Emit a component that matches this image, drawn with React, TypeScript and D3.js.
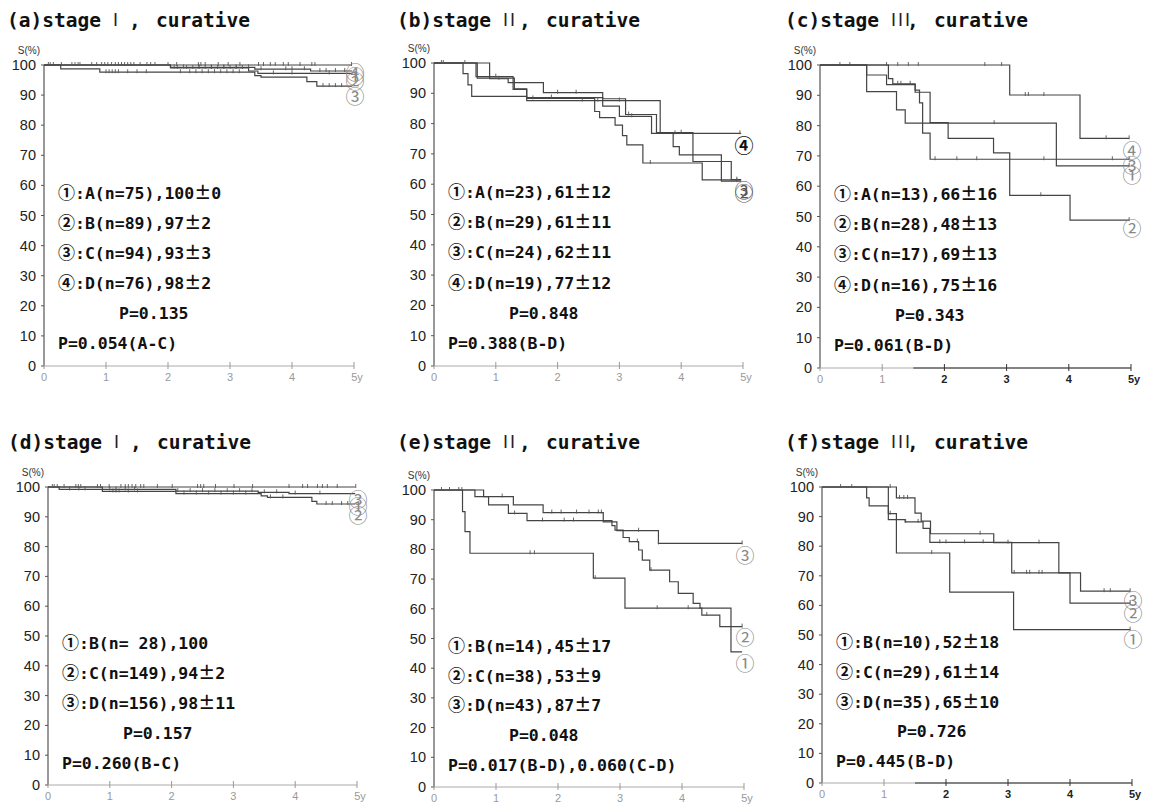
import React from 'react';
import * as d3 from 'd3';

type Pt = [number, number];

// ---- (a) stage I, curative : A, B, C, D
const aCurve1: Pt[] = [[0, 100]];
const aCurve2: Pt[] = [[0, 100], [2.04, 99], [3.3, 98], [3.45, 97.2]];
const aCurve3: Pt[] = [[0, 100], [0.27, 98.7], [0.9, 97.6], [3.4, 96.5], [3.5, 96], [4.24, 94.5], [4.4, 93]];
const aCurve4: Pt[] = [[0, 100], [2.04, 99.2], [3.4, 98.6], [4.3, 98]];
const aCens1 = [0.07, 0.1, 0.15, 0.28, 0.45, 0.5, 0.55, 0.58, 0.77, 0.85, 0.93, 0.98, 1.03, 1.09, 1.15, 1.2, 1.25, 1.3, 1.35, 1.4, 1.45, 1.55, 1.66, 1.72, 1.79, 2.0, 2.14, 2.49, 2.53, 2.6, 2.81, 2.97, 3.16, 3.46, 3.54, 3.65, 3.73, 3.86, 3.94, 4.13, 4.32, 4.37, 4.96];
const aCens2 = [2.15, 2.3, 2.4, 2.5, 2.6, 2.7, 2.8, 2.9, 3.0, 3.1, 3.2, 3.7, 4.0, 4.6];
const aCens3 = [1.0, 1.05, 1.1, 1.15, 1.2, 1.35, 1.5, 1.65, 2.2, 2.35, 2.45, 2.55, 2.65, 2.75, 2.85, 2.95, 3.05, 3.15, 4.5, 4.6, 4.7, 4.8];
const aCens4 = [2.1, 2.25, 2.5, 2.7, 2.9, 3.1, 3.3, 3.5, 3.9, 4.0, 4.2, 4.45, 4.55, 4.7, 4.85];
const aLegend = ['①:A(n=75),100±0', '②:B(n=89),97±2', '③:C(n=94),93±3', '④:D(n=76),98±2'];
const aP = ['P=0.135', 'P=0.054(A-C)'];
const aEndLabels: [string, number][] = [['④', 97.3], ['①', 95.8], ['②', 94.2], ['③', 89.2]];

// ---- (b) stage II, curative
const bCurve1: Pt[] = [[0, 100], [0.47, 96.5], [0.55, 92.8], [0.61, 89], [1.5, 87.6], [2.6, 84], [2.68, 82], [2.93, 79.5], [3.05, 76], [3.12, 73], [3.38, 67], [4.34, 61.4]];
const bCurve2: Pt[] = [[0, 100], [0.68, 95.5], [1.28, 91.3], [1.5, 88.6], [2.73, 85.8], [3.0, 82.4], [3.52, 76.8], [3.87, 72.4], [3.97, 69.7], [4.65, 61]];
const bCurve3: Pt[] = [[0, 100], [0.9, 94.8], [1.2, 93.5], [1.77, 90.2], [2.73, 88.2], [3.1, 83], [3.6, 77], [4.19, 67.5], [4.81, 61.5]];
const bCurve4: Pt[] = [[0, 100], [0.7, 95], [1.3, 91.5], [1.5, 88.3], [2.6, 87.6], [3.66, 76.8]];
const bCens1 = [0.15, 2.4, 3.5];
const bCens2 = [1.0, 1.9, 3.2, 4.9];
const bCens3 = [1.05, 2.0, 2.3, 3.15, 4.0, 4.9];
const bCens4 = [0.12, 0.5, 1.6, 2.65, 3.0, 3.9, 4.95];
const bLegend = ['①:A(n=23),61±12', '②:B(n=29),61±11', '③:C(n=24),62±11', '④:D(n=19),77±12'];
const bP = ['P=0.848', 'P=0.388(B-D)'];
const bEndLabels: [string, number][] = [['④', 72.4], ['③', 57.8], ['②', 56.8]];

// ---- (c) stage III, curative
const cCurve1: Pt[] = [[0, 100], [0.75, 91.2], [1.23, 85.2], [1.37, 80.8], [3.8, 66.7]];
const cCurve2: Pt[] = [[0, 100], [1.1, 95.5], [1.17, 93.8], [1.53, 91], [1.77, 81], [2.06, 75.8], [2.79, 71], [3.05, 57], [4.02, 48.8]];
const cCurve3: Pt[] = [[0, 100], [0.75, 96.7], [1.07, 93.5], [1.53, 91.7], [1.6, 87.5], [1.65, 77.5], [1.77, 68.9]];
const cCurve4: Pt[] = [[0, 100], [3.05, 90.1], [4.18, 75.8]];
const cCens1 = [2.8, 4.97];
const cCens2 = [1.25, 1.3, 1.45, 3.55, 4.97];
const cCens3 = [1.85, 2.2, 2.52, 3.6, 4.7, 4.97];
const cCens4 = [0.32, 0.48, 1.07, 1.25, 1.42, 1.58, 2.65, 2.92, 3.3, 3.35, 3.6, 4.6, 4.97];
const cLegend = ['①:A(n=13),66±16', '②:B(n=28),48±13', '③:C(n=17),69±13', '④:D(n=16),75±16'];
const cP = ['P=0.343', 'P=0.061(B-D)'];
const cEndLabels: [string, number][] = [['④', 71.5], ['③', 66.5], ['①', 63.3], ['②', 45.7]];

// ---- (d) stage I, curative : B, C, D
const dCurve1: Pt[] = [[0, 100]];
const dCurve2: Pt[] = [[0, 100], [0.18, 99.2], [0.88, 98.5], [2.07, 97.8], [3.45, 97], [3.55, 96.5], [4.27, 95.2], [4.35, 94.3]];
const dCurve3: Pt[] = [[0, 100], [0.88, 99.2], [2.07, 98.6], [3.4, 98.2], [3.9, 97.8]];
const dCens1 = [0.07, 0.1, 0.15, 0.26, 0.45, 0.49, 0.53, 0.8, 0.85, 0.99, 1.18, 1.25, 1.3, 1.36, 1.42, 1.5, 1.55, 1.77, 2.01, 2.42, 2.47, 2.52, 2.71, 3.01, 3.31, 3.9, 4.12, 4.2, 4.36, 4.44, 4.52, 4.68, 4.98];
const dCens2 = [0.35, 0.5, 0.6, 1.05, 1.1, 1.15, 1.3, 1.45, 2.2, 2.4, 2.6, 2.8, 3.0, 3.2, 3.6, 3.8, 4.5, 4.6, 4.75, 4.85];
const dCens3 = [1.0, 1.1, 1.25, 1.4, 2.1, 2.3, 2.5, 2.7, 2.9, 3.1, 3.3, 3.5, 3.7, 4.0, 4.4];
const dLegend = ['①:B(n= 28),100', '②:C(n=149),94±2', '③:D(n=156),98±11'];
const dP = ['P=0.157', 'P=0.260(B-C)'];
const dEndLabels: [string, number][] = [['③', 95.5], ['①', 93.3], ['②', 90.2]];

// ---- (e) stage II, curative
const eCurve1: Pt[] = [[0, 100], [0.46, 92.7], [0.5, 86], [0.58, 78.7], [2.57, 70.3], [3.08, 60.2], [4.79, 45.5]];
const eCurve2: Pt[] = [[0, 100], [0.8, 97.8], [0.88, 95], [1.2, 92.1], [1.5, 89.7], [2.87, 88], [2.92, 86.5], [3.05, 84], [3.15, 82.6], [3.3, 79.8], [3.36, 76.4], [3.48, 73], [3.8, 69.1], [3.94, 65.2], [4.18, 61.8], [4.29, 60.2], [4.32, 57.9], [4.61, 54]];
const eCurve3: Pt[] = [[0, 100], [0.66, 97.8], [1.28, 95], [1.76, 92.4], [2.73, 89.3], [2.95, 86.3], [3.62, 82]];
const eCens1 = [0.12, 0.25, 1.55, 1.62, 2.6, 3.6, 4.1];
const eCens2 = [0.45, 1.3, 1.75, 2.1, 2.25, 3.28, 3.5, 4.4, 4.97];
const eCens3 = [0.4, 1.1, 1.9, 2.05, 2.3, 2.5, 2.65, 2.7, 3.3, 3.62, 4.97];
const eLegend = ['①:B(n=14),45±17', '②:C(n=38),53±9', '③:D(n=43),87±7'];
const eP = ['P=0.048', 'P=0.017(B-D),0.060(C-D)'];
const eEndLabels: [string, number][] = [['③', 77.8], ['②', 50], ['①', 41.3]];

// ---- (f) stage III, curative
const fCurve1: Pt[] = [[0, 100], [1.07, 89], [1.2, 77.7], [2.06, 64.5], [3.09, 51.8]];
const fCurve2: Pt[] = [[0, 100], [0.72, 96.3], [0.76, 93.6], [1.07, 91], [1.2, 89], [1.34, 88.2], [1.63, 86], [1.74, 81.3], [3.06, 71], [4.0, 60.8]];
const fCurve3: Pt[] = [[0, 100], [1.2, 96.3], [1.5, 91.2], [1.6, 88.5], [1.75, 84.2], [2.77, 81.2], [3.82, 71], [4.17, 64.8]];
const fCens1 = [0.3, 0.48, 1.77, 4.97];
const fCens2 = [1.1, 1.35, 1.55, 1.9, 2.0, 2.3, 2.6, 3.1, 3.3, 3.35, 3.5, 3.55, 4.97];
const fCens3 = [1.1, 1.25, 1.32, 1.38, 2.55, 3.0, 3.5, 4.55, 4.65, 4.97];
const fLegend = ['①:B(n=10),52±18', '②:C(n=29),61±14', '③:D(n=35),65±10'];
const fP = ['P=0.726', 'P=0.445(B-D)'];
const fEndLabels: [string, number][] = [['③', 61.5], ['②', 57.2], ['①', 48.4]];

const panelLetters = ['a', 'b', 'c', 'd', 'e', 'f'];
const stageNumerals = ['I', 'II', 'III', 'I', 'II', 'III'];
const yTicks = [0, 10, 20, 30, 40, 50, 60, 70, 80, 90, 100];
const xTicks = [0, 1, 2, 3, 4, 5];
const END_T = 4.97;

// layout of the six panels (pixel frame of each plot)
const frames = [
  { ax: 44, right: 354, top: 65, bottom: 366, titleX: 7, titleY: 27, legendTop: 57.5 },
  { ax: 434, right: 743, top: 63, bottom: 366, titleX: 397, titleY: 27, legendTop: 57.5 },
  { ax: 820, right: 1131, top: 65, bottom: 368, titleX: 785, titleY: 27, legendTop: 57.5, darkFrom: 1.5 },
  { ax: 48, right: 357, top: 487, bottom: 785, titleX: 8, titleY: 449, legendTop: 47.5 },
  { ax: 434, right: 744, top: 490, bottom: 787, titleX: 397, titleY: 449, legendTop: 47.5 },
  { ax: 822, right: 1132, top: 487, bottom: 783, titleX: 785, titleY: 449, legendTop: 47.5, darkFrom: 1.5 },
];

const panelData = [
  { curves: [aCurve1, aCurve2, aCurve3, aCurve4], cens: [aCens1, aCens2, aCens3, aCens4], legend: aLegend, p: aP, ends: aEndLabels },
  { curves: [bCurve1, bCurve2, bCurve3, bCurve4], cens: [bCens1, bCens2, bCens3, bCens4], legend: bLegend, p: bP, ends: bEndLabels },
  { curves: [cCurve1, cCurve2, cCurve3, cCurve4], cens: [cCens1, cCens2, cCens3, cCens4], legend: cLegend, p: cP, ends: cEndLabels },
  { curves: [dCurve1, dCurve2, dCurve3], cens: [dCens1, dCens2, dCens3], legend: dLegend, p: dP, ends: dEndLabels },
  { curves: [eCurve1, eCurve2, eCurve3], cens: [eCens1, eCens2, eCens3], legend: eLegend, p: eP, ends: eEndLabels },
  { curves: [fCurve1, fCurve2, fCurve3], cens: [fCens1, fCens2, fCens3], legend: fLegend, p: fP, ends: fEndLabels },
];

const MONO = "'DejaVu Sans Mono', 'Noto Sans CJK JP', monospace";
const SANS = "'Liberation Sans', Arial, sans-serif";
const CJK = "'Noto Sans CJK JP', 'DejaVu Sans', sans-serif";

const valueAt = (steps: Pt[], t: number) => {
  let v = steps[0][1];
  for (const [x, y] of steps) if (x <= t) v = y;
  return v;
};

// circled digits and ± are drawn with the CJK font (full width), the rest in mono
const splitRuns = (s: string) => {
  const runs: { wide: boolean; txt: string }[] = [];
  for (const ch of s) {
    const wide = /[①②③④±]/.test(ch);
    const last = runs[runs.length - 1];
    if (last && last.wide === wide) last.txt += ch;
    else runs.push({ wide, txt: ch });
  }
  return runs;
};

const LegendText = ({ x, y, s }: { x: number; y: number; s: string }) => (
  <text x={x} y={y} dy="0.36em" fontFamily={MONO} fontWeight="bold" fontSize={16.5} fill="#111">
    {splitRuns(s).map((r, k) =>
      r.wide
        ? <tspan key={k} fontFamily={CJK} fontSize={17} fontWeight="bold">{r.txt}</tspan>
        : <tspan key={k}>{r.txt}</tspan>
    )}
  </text>
);

const Panel = ({ i }: { i: number }) => {
  const f: any = frames[i];
  const p = panelData[i];
  const x = d3.scaleLinear().domain([0, 5]).range([f.ax, f.right]);
  const y = d3.scaleLinear().domain([0, 100]).range([f.bottom, f.top]);
  const line = d3.line<Pt>().x(d => x(d[0])).y(d => y(d[1])).curve(d3.curveStepAfter);
  const n = p.legend.length;

  return (
    <g>
      {/* title */}
      <text x={f.titleX} y={f.titleY} fontFamily={MONO} fontWeight="bold" fontSize={19.5} fill="#111">
        {`(${panelLetters[i]})stage`}
      </text>
      <text x={f.titleX + 106} y={f.titleY - 1} fontFamily={SANS} fontSize={18} letterSpacing={2} fill="#222">
        {stageNumerals[i]}
      </text>
      <text x={f.titleX + 122} y={f.titleY} fontFamily={MONO} fontWeight="bold" fontSize={19.5} fill="#111">,</text>
      <text x={f.titleX + 149} y={f.titleY} fontFamily={MONO} fontWeight="bold" fontSize={19.5} fill="#111">curative</text>

      {/* y axis */}
      <text x={f.ax - 4} y={f.top - 11} textAnchor="end" fontFamily={SANS} fontSize={10} fill="#333">S(%)</text>
      <line x1={f.ax} x2={f.ax} y1={y(100)} y2={y(0)} stroke="#555" strokeWidth={1.2} />
      {yTicks.map(v => (
        <g key={v}>
          <line x1={f.ax - 3} x2={f.ax} y1={y(v)} y2={y(v)} stroke="#555" />
          <text x={f.ax - 8} y={y(v)} dy="0.35em" textAnchor="end" fontFamily={SANS} fontSize={14.5} fill="#222">{v}</text>
        </g>
      ))}

      {/* x axis */}
      <line x1={x(0)} x2={x(5)} y1={y(0)} y2={y(0)} stroke="#aaa" strokeWidth={1} />
      {f.darkFrom !== undefined && (
        <line x1={x(f.darkFrom)} x2={x(5)} y1={y(0)} y2={y(0)} stroke="#333" strokeWidth={1.2} />
      )}
      {xTicks.map(v => {
        const dark = f.darkFrom !== undefined && v >= 2;
        return (
          <g key={v}>
            <line x1={x(v)} x2={x(v)} y1={y(0) - 4} y2={y(0) + 3} stroke={dark ? '#333' : '#999'} />
            <text x={x(v) + (v === 5 ? 3 : 0)} y={y(0) + 15} textAnchor="middle" fontFamily={SANS}
              fontSize={11} fontWeight={dark ? 'bold' : 'normal'} fill={dark ? '#222' : '#999'}>
              {v === 5 ? '5y' : v}
            </text>
          </g>
        );
      })}

      {/* survival curves */}
      {p.curves.map((c, k) => {
        const pts: Pt[] = [...c, [END_T, c[c.length - 1][1]]];
        return <path key={k} d={line(pts) || ''} fill="none" stroke="#444" strokeWidth={1.2} />;
      })}
      {p.cens.map((cs, k) =>
        cs.map((t, j) => {
          const v = valueAt(p.curves[k], t);
          return <line key={`${k}-${j}`} x1={x(t)} x2={x(t)} y1={y(v) - 3} y2={y(v) + 1} stroke="#555" strokeWidth={0.9} />;
        })
      )}

      {/* end labels */}
      {p.ends.map(([lab, v], k) => {
        const strong = i === 1 && lab === '④';
        const mid = i === 1 && lab !== '④';
        return (
          <text key={k} x={x(5) + 1} y={y(v)} dy="0.36em" textAnchor="middle" fontFamily={CJK}
            fontSize={19} fontWeight={strong ? 'bold' : 'normal'}
            fill={strong ? '#111' : mid ? '#555' : '#888'}>{lab}</text>
        );
      })}

      {/* legend */}
      {p.legend.map((t, k) => (
        <LegendText key={k} x={f.ax + 14} y={y(f.legendTop - 10 * k)} s={t} />
      ))}
      <LegendText x={f.ax + 75} y={y(f.legendTop - 10 * n)} s={p.p[0]} />
      <LegendText x={f.ax + 14} y={y(f.legendTop - 10 * (n + 1))} s={p.p[1]} />
    </g>
  );
};

const App = () => (
  <svg width={1152} height={807} style={{ position: 'absolute', left: 0, top: 0, background: '#fff' }}>
    <rect width={1152} height={807} fill="#fff" />
    {frames.map((_, i) => <Panel key={i} i={i} />)}
  </svg>
);

export default App;
